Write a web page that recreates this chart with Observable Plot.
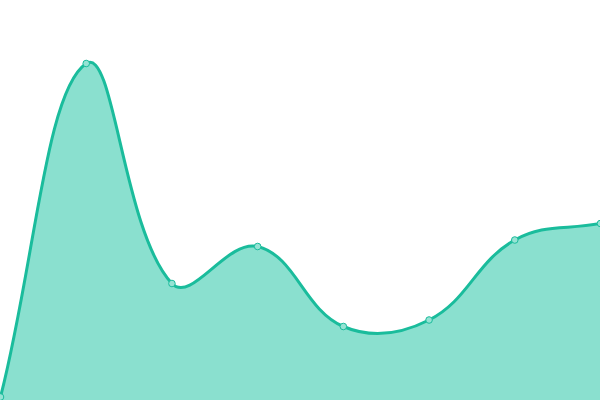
<!DOCTYPE html>
<html>
<head>
<meta charset="utf-8">
<script src="https://cdn.jsdelivr.net/npm/d3@7"></script>
<script src="https://cdn.jsdelivr.net/npm/@observablehq/plot@0.6"></script>
<style>
  html, body { margin: 0; padding: 0; background: #fff; overflow: hidden; }
</style>
</head>
<body>
<div id="chart"></div>
<script>
const xs = [0, 1, 2, 3, 4, 5, 6, 7];
const values = [3.5, 337, 117, 154, 74, 80.5, 160.5, 177];

const data = xs.map((x, i) => ({x, v: values[i]}));

// Tension-based spline (distance weighted control points)
function makeSplineCurve(tension, x0b, x1b, y0b, y1b) {
  function Spline(context) { this._context = context; }
  Spline.prototype = {
    areaStart() { this._line = 0; },
    areaEnd() { this._line = NaN; },
    lineStart() { this._pts = []; },
    point(x, y) { this._pts.push([+x, +y]); },
    lineEnd() {
      const p = this._pts, n = p.length, c = this._context;
      if (n) {
        if (this._line) c.lineTo(p[0][0], p[0][1]); else c.moveTo(p[0][0], p[0][1]);
        const cps = p.map((pt, i) => {
          const prev = p[i - 1] || pt, next = p[i + 1] || pt;
          const d01 = Math.hypot(pt[0] - prev[0], pt[1] - prev[1]);
          const d12 = Math.hypot(next[0] - pt[0], next[1] - pt[1]);
          let s01 = d01 / (d01 + d12), s12 = d12 / (d01 + d12);
          if (!isFinite(s01)) s01 = 0;
          if (!isFinite(s12)) s12 = 0;
          const fa = tension * s01, fb = tension * s12;
          const clampX = v => Math.max(x0b, Math.min(x1b, v));
          const clampY = v => Math.max(y0b, Math.min(y1b, v));
          return {
            inX: clampX(pt[0] - fa * (next[0] - prev[0])),
            inY: clampY(pt[1] - fa * (next[1] - prev[1])),
            outX: clampX(pt[0] + fb * (next[0] - prev[0])),
            outY: clampY(pt[1] + fb * (next[1] - prev[1]))
          };
        });
        for (let i = 1; i < n; ++i) {
          c.bezierCurveTo(cps[i - 1].outX, cps[i - 1].outY, cps[i].inX, cps[i].inY, p[i][0], p[i][1]);
        }
      }
      if (this._line || (this._line !== 0 && n === 1)) c.closePath();
      this._line = 1 - this._line;
    }
  };
  return context => new Spline(context);
}

const W = 600, H = 400;
const curve = makeSplineCurve(0.4, 0, W, 0, H);

const chart = Plot.plot({
  width: W,
  height: H,
  margin: 0,
  x: {domain: [0, 7], axis: null},
  y: {domain: [0, 400], axis: null},
  marks: [
    Plot.areaY(data, {x: "x", y: "v", curve, fill: "#8ae0cf"}),
    Plot.lineY(data, {x: "x", y: "v", curve, stroke: "#1abc9c", strokeWidth: 3}),
    Plot.dot(data, {x: "x", y: "v", r: 3.3, fill: "#96e3d4", stroke: "#1abc9c", strokeWidth: 1})
  ]
});
document.getElementById("chart").appendChild(chart);
</script>
</body>
</html>
